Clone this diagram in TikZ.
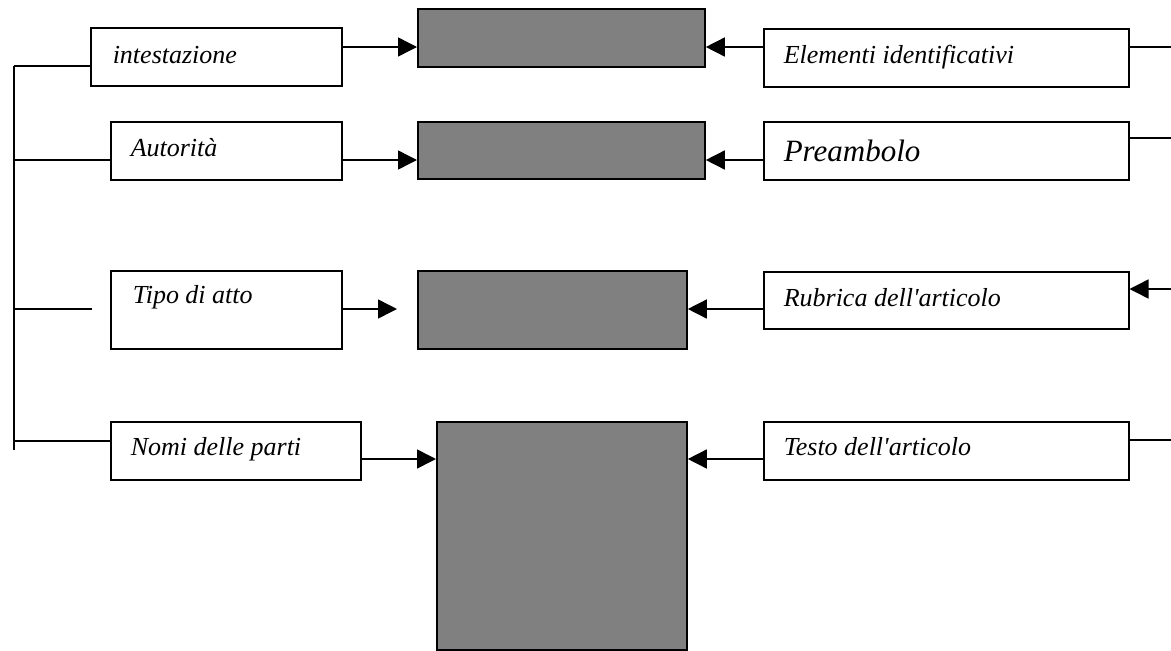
\documentclass[tikz,border=0pt]{standalone}
\usepackage{fontspec}
\setmainfont{Liberation Serif}
\usetikzlibrary{arrows.meta}
\definecolor{boxgray}{RGB}{128,128,128}
\begin{document}
\begin{tikzpicture}[x=1pt,y=-1pt,
  line width=1.5pt,
  frame/.style={draw, rectangle, anchor=north west, inner sep=0pt},
  shade/.style={draw, fill=boxgray, rectangle, anchor=north west, inner sep=0pt, line width=1.8pt},
  lbl/.style={anchor=base west, inner sep=0pt, font=\fontsize{26}{30}\selectfont\itshape},
  biglbl/.style={anchor=base west, inner sep=0pt, font=\fontsize{31}{36}\selectfont\itshape},
  arr/.style={-{Triangle[length=19pt,width=19pt]}}]
\useasboundingbox (0,0) rectangle (1171,651);

% left-hand column of boxes
\node[frame, minimum width=251pt, minimum height=58pt] (intest) at (90,27) {};
\node[frame, minimum width=231pt, minimum height=58pt] (aut) at (110,121) {};
\node[frame, minimum width=231pt, minimum height=78pt] (tipo) at (110,270) {};
\node[frame, minimum width=250pt, minimum height=58pt] (nomi) at (110,421) {};

\node[lbl] (tintest) at (112,63) {intestazione};
\node[lbl] (taut) at (130,156) {Autorità};
\node[lbl] (ttipo) at (132,303) {Tipo di atto};
\node[lbl] (tnomi) at (130,455) {Nomi delle parti};

% grey blocks in the middle
\node[shade, minimum width=287pt, minimum height=58pt] (g1) at (417,8) {};
\node[shade, minimum width=287pt, minimum height=57pt] (g2) at (417,121) {};
\node[shade, minimum width=269pt, minimum height=78pt] (g3) at (417,270) {};
\node[shade, minimum width=250pt, minimum height=228pt] (g4) at (436,421) {};

% right-hand column of boxes
\node[frame, minimum width=365pt, minimum height=58pt] (elem) at (763,28) {};
\node[frame, minimum width=365pt, minimum height=58pt] (pre) at (763,121) {};
\node[frame, minimum width=365pt, minimum height=57pt] (rubr) at (763,271) {};
\node[frame, minimum width=365pt, minimum height=58pt] (testo) at (763,421) {};

\node[lbl] (telem) at (783,63) {Elementi identificativi};
\node[biglbl] (tpre) at (783,161) {Preambolo};
\node[lbl] (trubr) at (783,306) {Rubrica dell\textquotesingle articolo};
\node[lbl] (ttesto) at (783,455) {Testo dell\textquotesingle articolo};

% bus on the left
\coordinate (busT) at (14,66);
\coordinate (busB) at (14,450);
\coordinate (b2) at (14,160);
\coordinate (b3) at (14,309);
\coordinate (b4) at (14,441);
\coordinate (b3end) at (92,309);
\draw (busT) -- (busB);
\draw (busT) -- (busT -| intest.west);
\draw (b2) -- (b2 -| aut.west);
\draw (b3) -- (b3end);
\draw (b4) -- (b4 -| nomi.west);

% arrows into the grey blocks from the left
\draw[arr] (intest.east |- 0,47) -- (g1.west |- 0,47);
\draw[arr] (aut.east |- 0,160) -- (g2.west |- 0,160);
\coordinate (t3) at (397,309);
\draw[arr] (tipo.east |- t3) -- (t3);
\draw[arr] (nomi.east |- 0,459) -- (g4.west |- 0,459);

% arrows into the grey blocks from the right
\draw[arr] (elem.west |- 0,47) -- (g1.east |- 0,47);
\draw[arr] (pre.west |- 0,160) -- (g2.east |- 0,160);
\draw[arr] (rubr.west |- 0,309) -- (g3.east |- 0,309);
\draw[arr] (testo.west |- 0,459) -- (g4.east |- 0,459);

% stubs leaving on the right edge
\coordinate (e1) at (1171,47);
\coordinate (e2) at (1171,138);
\coordinate (e3) at (1171,289);
\coordinate (e4) at (1171,440);
\draw (elem.east |- e1) -- (e1);
\draw (pre.east |- e2) -- (e2);
\draw[arr] (e3) -- (rubr.east |- e3);
\draw (testo.east |- e4) -- (e4);
\end{tikzpicture}
\end{document}
